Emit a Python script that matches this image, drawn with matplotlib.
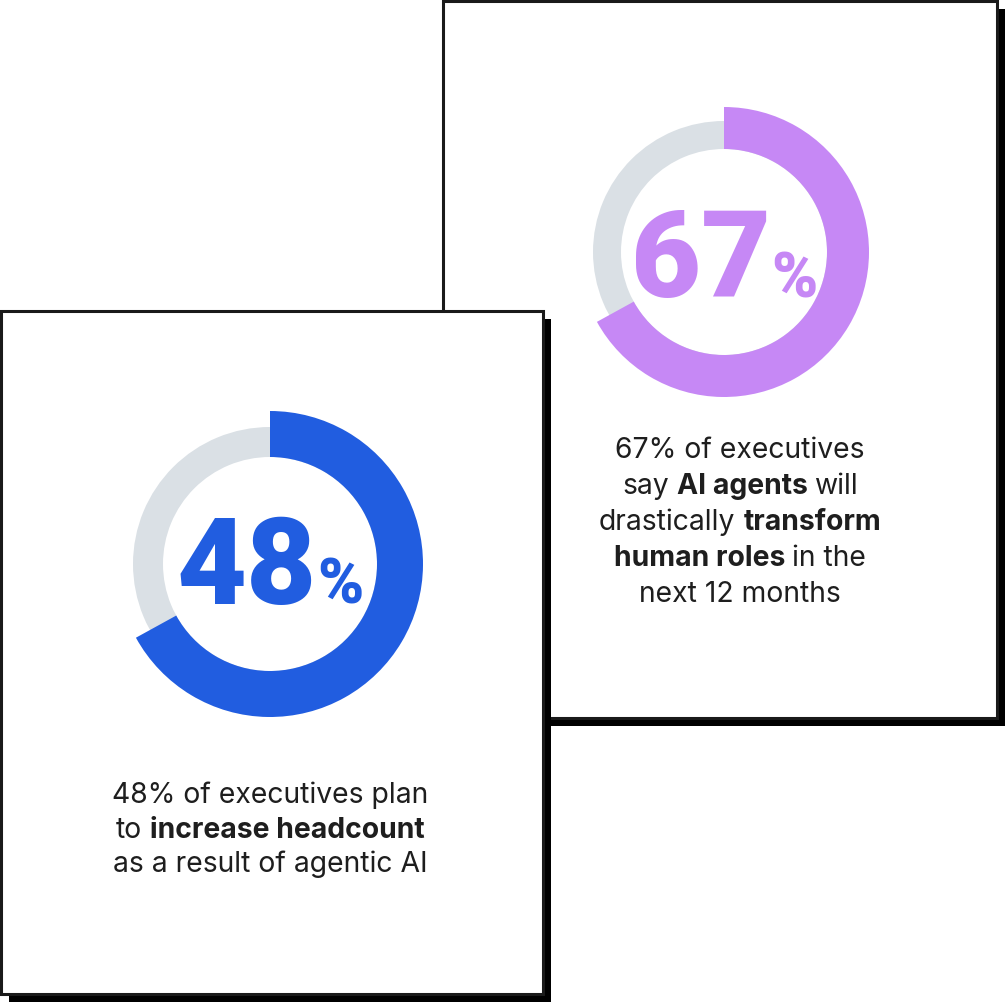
import matplotlib
matplotlib.use("Agg")
import matplotlib.pyplot as plt
from matplotlib.patches import Rectangle

W, H = 1006, 1002
FONT = ["Inter", "DejaVu Sans"]
BIG_FONT = ["Roboto", "DejaVu Sans"]

# ---- data ----
stat_values = [67, 48]            # big numbers, back card then front card
ring_share = [67, 67]             # coloured arc as drawn (both rings show about 2/3)
ring_colors = ["#C688F5", "#215DE0"]
TRACK = "#DAE0E5"
INK = "#1E1E1E"
EDGE = "#1A1A1A"

card_a_lines = [
    [("67% of executives", "normal")],
    [("say", "normal"), ("AI agents", "bold"), ("will", "normal")],
    [("drastically", "normal"), ("transform", "bold")],
    [("human roles", "bold"), ("in the", "normal")],
    [("next 12 months", "normal")],
]
card_b_lines = [
    [("48% of executives plan", "normal")],
    [("to", "normal"), ("increase headcount", "bold")],
    [("as a result of agentic AI", "normal")],
]

# layout in pixels, y measured from the top
cards = [
    dict(box=(443.5, 1, 997, 717.5), ring=(724, 252, 145, 103, 131), num_base=297,
         text_x=740, text_base=458, step=36, lines=card_a_lines),
    dict(box=(1.5, 311, 543.5, 993.5), ring=(270, 564, 153, 107, 137), num_base=604,
         text_x=270, text_base=803, step=34.5, lines=card_b_lines),
]
SHADOW = 8
TXT = 20.4
NUM, PCT = 87, 45

fig = plt.figure(figsize=(W / 100, H / 100), dpi=100)
ax = fig.add_axes([0, 0, 1, 1])
r = fig.canvas.get_renderer()
Y = lambda y: H - y


def width(s, weight, size, family=FONT):
    t = ax.text(0, 0, s, fontsize=size, fontweight=weight, family=family)
    w = t.get_window_extent(r).width
    t.remove()
    return w


def rich_line(cx, y, parts, z):
    ws = [width(s, wt, TXT) for s, wt in parts]
    gaps = [width("a a", wt, TXT) - width("aa", wt, TXT) for _, wt in parts]
    total = sum(ws) + sum(gaps[:-1])
    x = cx - total / 2
    for (s, wt), w, g in zip(parts, ws, gaps):
        ax.text(x, Y(y), s, fontsize=TXT, fontweight=wt, family=FONT, color=INK,
                ha="left", va="baseline", zorder=z)
        x += w + g


def big_number(cx, base, val, color, z):
    a, b = f"{val}", "%"
    wa, wb = width(a, "black", NUM, BIG_FONT), width(b, "black", PCT, BIG_FONT)
    x = cx - (wa + wb) / 2
    ax.text(x, Y(base), a, fontsize=NUM, fontweight="black", family=BIG_FONT, color=color,
            ha="left", va="baseline", zorder=z)
    ax.text(x + wa, Y(base), b, fontsize=PCT, fontweight="black", family=BIG_FONT,
            color=color, ha="left", va="baseline", zorder=z)


for i, (c, val, share, col) in enumerate(zip(cards, stat_values, ring_share, ring_colors)):
    z0 = i * 10
    x0, y0, x1, y1 = c["box"]
    ax.add_patch(Rectangle((x0 + SHADOW, Y(y1 + SHADOW)), x1 - x0, y1 - y0,
                           facecolor="black", edgecolor="none", zorder=z0 + 1))
    ax.add_patch(Rectangle((x0, Y(y1)), x1 - x0, y1 - y0, facecolor="white",
                           edgecolor=EDGE, linewidth=2.2, zorder=z0 + 2))
    cx, cy, r_out, r_in, r_track = c["ring"]
    ax.pie([1], radius=r_track, center=(cx, Y(cy)), colors=[TRACK],
           wedgeprops=dict(width=r_track - r_in, linewidth=0, zorder=z0 + 3))
    ax.pie([share, 100 - share], radius=r_out, center=(cx, Y(cy)), startangle=90,
           counterclock=False, colors=[col, "none"],
           wedgeprops=dict(width=r_out - r_in, linewidth=0, zorder=z0 + 4))
    big_number(cx, c["num_base"], val, col, z0 + 5)
    for k, parts in enumerate(c["lines"]):
        rich_line(c["text_x"], c["text_base"] + k * c["step"], parts, z0 + 5)

ax.set_xlim(0, W)
ax.set_ylim(0, H)
ax.set_aspect("auto")
ax.axis("off")
fig.savefig("out.png", dpi=100, facecolor="white")
